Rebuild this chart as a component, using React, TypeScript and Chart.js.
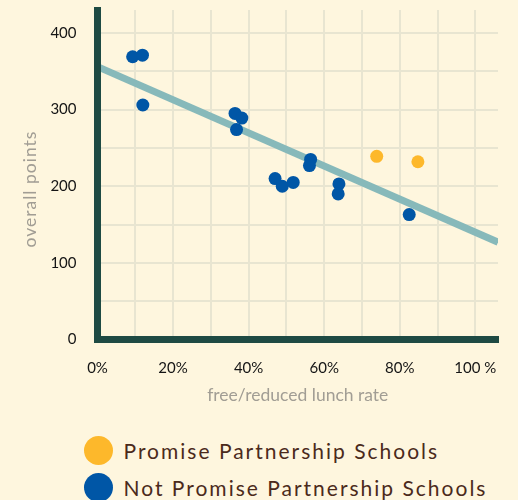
import React, { useEffect, useRef } from "react";
import { Chart, registerables } from "chart.js";

Chart.register(...registerables);

const promiseX = [73.9, 84.8];
const promiseY = [239, 232];
const notPromiseX = [9.3, 11.9, 12.0, 36.4, 38.2, 36.8, 47.0, 48.9, 51.8, 56.4, 56.1, 63.9, 63.7, 82.5];
const notPromiseY = [369, 371, 306, 295, 289, 274, 210, 200, 205, 235, 227, 203, 190, 163];
const trendX = [0, 106];
const trendY = [356, 127];
const seriesNames = ["Promise Partnership Schools", "Not Promise Partnership Schools"];
const xTitle = "free/reduced lunch rate";
const yTitle = "overall points";

const BG = "#fef6de";
const GRID = "#e8e5d1";
const AXIS = "#1e4a43";
const BLUE = "#0056a6";
const ORANGE = "#fdb82b";
const TREND = "#87b9ba";
const LEGEND_TEXT = "#4b2a1b";
const TITLE_GREY = "#a19d94";

const W = 518;
const H = 420;
const AREA_LEFT = 97.5;
const AREA_BOTTOM = 339.5;

function zip(xs: number[], ys: number[]) {
  return xs.map((x, i) => ({ x, y: ys[i] }));
}

const yTitlePlugin = {
  id: "yTitlePlugin",
  afterDraw(chart: any) {
    const ctx = chart.ctx;
    ctx.save();
    ctx.translate(30, 189);
    ctx.rotate(-Math.PI / 2);
    ctx.font = "17.5px Lato";
    (ctx as any).letterSpacing = "1px";
    ctx.fillStyle = TITLE_GREY;
    ctx.textAlign = "center";
    ctx.textBaseline = "middle";
    ctx.fillText(yTitle, 0, 0);
    ctx.restore();
  },
};

export default function App() {
  const ref = useRef<HTMLCanvasElement | null>(null);

  useEffect(() => {
    if (!ref.current) return;
    const chart = new Chart(ref.current, {
      type: "scatter",
      data: {
        datasets: [
          {
            label: seriesNames[0],
            data: zip(promiseX, promiseY),
            backgroundColor: ORANGE,
            borderWidth: 0,
            pointRadius: 6.5,
            order: 1,
          },
          {
            label: seriesNames[1],
            data: zip(notPromiseX, notPromiseY),
            backgroundColor: BLUE,
            borderWidth: 0,
            pointRadius: 6.5,
            order: 1,
          },
          {
            type: "line",
            label: "trend",
            data: zip(trendX, trendY),
            borderColor: TREND,
            borderWidth: 7,
            pointRadius: 0,
            showLine: true,
            fill: false,
            order: 3,
          } as any,
        ],
      },
      options: {
        responsive: false,
        animation: false,
        devicePixelRatio: 1,
        events: [],
        layout: { padding: { left: 0, top: 10, right: 20, bottom: 0 } },
        plugins: {
          legend: { display: false },
          tooltip: { enabled: false },
        },
        scales: {
          x: {
            type: "linear",
            min: 0,
            max: 106,
            afterFit: (axis: any) => {
              axis.height = H - AREA_BOTTOM;
              axis.paddingLeft = 0;
              axis.paddingRight = 0;
            },
            border: { display: true, color: AXIS, width: 7, z: 1 },
            grid: {
              color: GRID,
              lineWidth: 2,
              drawTicks: false,
            },
            ticks: {
              stepSize: 10,
              includeBounds: false,
              autoSkip: false,
              maxRotation: 0,
              padding: 20,
              color: "#151515",
              font: { family: "Lato", size: 15 },
              callback: (v: any) => {
                const n = Number(v);
                if (n % 20 !== 0) return "";
                return n === 100 ? "100 %" : n + "%";
              },
            },
            title: {
              display: true,
              text: xTitle,
              color: TITLE_GREY,
              font: { family: "Lato", size: 17.5 },
              padding: { top: 0, bottom: 14 },
            },
          },
          y: {
            type: "linear",
            min: 0,
            max: 430,
            afterFit: (axis: any) => {
              axis.width = AREA_LEFT;
              axis.paddingTop = 0;
              axis.paddingBottom = 0;
            },
            border: { display: true, color: AXIS, width: 7, z: 1 },
            grid: {
              color: GRID,
              lineWidth: 2,
              drawTicks: false,
            },
            ticks: {
              stepSize: 50,
              includeBounds: false,
              autoSkip: false,
              padding: 21,
              color: "#151515",
              font: { family: "Lato", size: 15 },
              callback: (v: any) => {
                const n = Number(v);
                return n % 100 === 0 ? String(n) : "";
              },
            },
            title: { display: false, text: yTitle },
          },
        },
      },
      plugins: [yTitlePlugin],
    });
    return () => chart.destroy();
  }, []);

  const legendItems = [
    { color: ORANGE, text: seriesNames[0], top: 435.5 },
    { color: BLUE, text: seriesNames[1], top: 473 },
  ];

  return (
    <div
      style={{
        position: "absolute",
        left: 0,
        top: 0,
        width: W,
        height: 500,
        background: BG,
        overflow: "hidden",
      }}
    >
      <canvas ref={ref} width={W} height={H} style={{ display: "block" }} />
      {legendItems.map((it) => (
        <div
          key={it.text}
          style={{
            position: "absolute",
            left: 83.5,
            top: it.top,
            height: 29,
            display: "flex",
            alignItems: "center",
          }}
        >
          <span
            style={{
              display: "inline-block",
              width: 29,
              height: 29,
              borderRadius: "50%",
              background: it.color,
              flex: "none",
            }}
          />
          <span
            style={{
              marginLeft: 11,
              fontFamily: "Lato",
              fontSize: 21,
              letterSpacing: 2,
              color: LEGEND_TEXT,
              lineHeight: "29px",
              whiteSpace: "nowrap",
            }}
          >
            {it.text}
          </span>
        </div>
      ))}
    </div>
  );
}
